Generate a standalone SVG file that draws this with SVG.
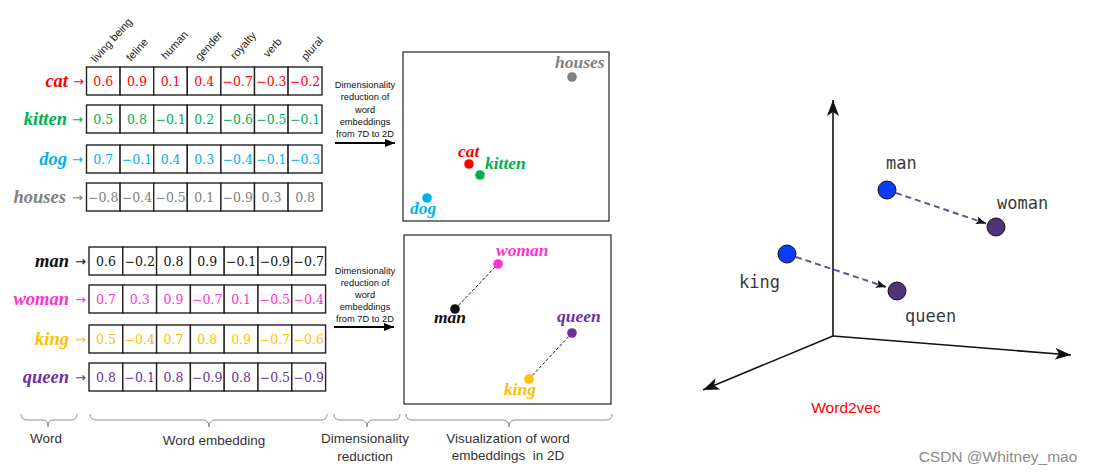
<svg xmlns="http://www.w3.org/2000/svg" width="1094" height="474" viewBox="0 0 1094 474">
<style>
.cell{fill:#fff;stroke:#222;stroke-width:1.4}
.num{font-family:"DejaVu Serif","Liberation Serif",serif;font-size:12.5px;text-anchor:middle}
.wl{font-family:"Liberation Serif",serif;font-weight:bold;font-style:italic;font-size:18.5px;text-anchor:end}
.ar{font-family:"DejaVu Sans",sans-serif;font-size:13px;text-anchor:end}
.hdr{font-family:"Liberation Sans",sans-serif;font-size:11px;fill:#222}
.dim{font-family:"Liberation Sans",sans-serif;font-size:9.3px;fill:#111;text-anchor:middle}
.pl{font-family:"Liberation Serif",serif;font-weight:bold;font-style:italic;font-size:17.5px}
.cap{font-family:"Liberation Sans",sans-serif;font-size:13.5px;fill:#333;text-anchor:middle}
.brace{fill:none;stroke:#8a8a8a;stroke-width:1}
.box{fill:#fff;stroke:#333;stroke-width:1.3}
.mono{font-family:"DejaVu Sans Mono",monospace;font-size:17px;fill:#3a3a3a}
.axis{stroke:#111;stroke-width:1.6;fill:none}
.dash{stroke:#6b4c9a;stroke-width:2;stroke-dasharray:6 4;fill:none}
.pd{stroke:#111;stroke-width:1;stroke-dasharray:3 2;fill:none}
.red{fill:#ff0000}.grn{fill:#00b050}.blu{fill:#00b0f0}.gry{fill:#808080}.blk{fill:#111}.mag{fill:#ff33cc}.gld{fill:#ffc000}.pur{fill:#7030a0}
</style>
<defs>
<marker id="bigArrow" viewBox="0 0 10 8" refX="10" refY="4" markerWidth="10" markerHeight="8" markerUnits="userSpaceOnUse" orient="auto"><path d="M0,0 L10,4 L0,8 Z" fill="#000"/></marker>
<marker id="axisArrow" viewBox="0 0 16 12" refX="16" refY="6" markerWidth="16" markerHeight="12" markerUnits="userSpaceOnUse" orient="auto"><path d="M0,0 L16,6 L0,12 L4,6 Z" fill="#111"/></marker>
<marker id="smallArrow" viewBox="0 0 10 8" refX="10" refY="4" markerWidth="10" markerHeight="8" markerUnits="userSpaceOnUse" orient="auto"><path d="M0,0 L10,4 L0,8 L2,4 Z" fill="#111"/></marker>
</defs>
<rect width="1094" height="474" fill="#fff"/>

<!-- column headers -->
<g id="headers">
<text class="hdr" transform="translate(96,63) rotate(-48)">living being</text>
<text class="hdr" transform="translate(131,62) rotate(-48)">feline</text>
<text class="hdr" transform="translate(166,60) rotate(-48)">human</text>
<text class="hdr" transform="translate(200,61) rotate(-48)">gender</text>
<text class="hdr" transform="translate(235,60) rotate(-48)">royalty</text>
<text class="hdr" transform="translate(268,58) rotate(-48)">verb</text>
<text class="hdr" transform="translate(306,61) rotate(-48)">plural</text>
</g>

<!-- top table rows -->
<g id="row-cat">
<rect class="cell" x="86.5" y="67" width="33.6" height="28"/><rect class="cell" x="120.1" y="67" width="33.6" height="28"/><rect class="cell" x="153.7" y="67" width="33.6" height="28"/><rect class="cell" x="187.3" y="67" width="33.6" height="28"/><rect class="cell" x="220.9" y="67" width="33.6" height="28"/><rect class="cell" x="254.5" y="67" width="33.6" height="28"/><rect class="cell" x="288.1" y="67" width="33.9" height="28"/>
<text class="wl red" x="68" y="87">cat</text><text class="ar red" x="84" y="86">→</text>
<g class="red"><text class="num" x="103.3" y="86">0.6</text><text class="num" x="137" y="86">0.9</text><text class="num" x="170.6" y="86">0.1</text><text class="num" x="204.2" y="86">0.4</text><text class="num" x="237.8" y="86">−0.7</text><text class="num" x="271.4" y="86">−0.3</text><text class="num" x="305.1" y="86">−0.2</text></g>
</g>
<g id="row-kitten">
<rect class="cell" x="86.5" y="105" width="33.6" height="28"/><rect class="cell" x="120.1" y="105" width="33.6" height="28"/><rect class="cell" x="153.7" y="105" width="33.6" height="28"/><rect class="cell" x="187.3" y="105" width="33.6" height="28"/><rect class="cell" x="220.9" y="105" width="33.6" height="28"/><rect class="cell" x="254.5" y="105" width="33.6" height="28"/><rect class="cell" x="288.1" y="105" width="33.9" height="28"/>
<text class="wl grn" x="67" y="125">kitten</text><text class="ar grn" x="83" y="124">→</text>
<g class="grn"><text class="num" x="103.3" y="124">0.5</text><text class="num" x="137" y="124">0.8</text><text class="num" x="170.6" y="124">−0.1</text><text class="num" x="204.2" y="124">0.2</text><text class="num" x="237.8" y="124">−0.6</text><text class="num" x="271.4" y="124">−0.5</text><text class="num" x="305.1" y="124">−0.1</text></g>
</g>
<g id="row-dog">
<rect class="cell" x="86.5" y="145" width="33.6" height="28"/><rect class="cell" x="120.1" y="145" width="33.6" height="28"/><rect class="cell" x="153.7" y="145" width="33.6" height="28"/><rect class="cell" x="187.3" y="145" width="33.6" height="28"/><rect class="cell" x="220.9" y="145" width="33.6" height="28"/><rect class="cell" x="254.5" y="145" width="33.6" height="28"/><rect class="cell" x="288.1" y="145" width="33.9" height="28"/>
<text class="wl blu" x="67" y="165">dog</text><text class="ar blu" x="83" y="164">→</text>
<g class="blu"><text class="num" x="103.3" y="164">0.7</text><text class="num" x="137" y="164">−0.1</text><text class="num" x="170.6" y="164">0.4</text><text class="num" x="204.2" y="164">0.3</text><text class="num" x="237.8" y="164">−0.4</text><text class="num" x="271.4" y="164">−0.1</text><text class="num" x="305.1" y="164">−0.3</text></g>
</g>
<g id="row-houses">
<rect class="cell" x="86.5" y="183" width="33.6" height="28"/><rect class="cell" x="120.1" y="183" width="33.6" height="28"/><rect class="cell" x="153.7" y="183" width="33.6" height="28"/><rect class="cell" x="187.3" y="183" width="33.6" height="28"/><rect class="cell" x="220.9" y="183" width="33.6" height="28"/><rect class="cell" x="254.5" y="183" width="33.6" height="28"/><rect class="cell" x="288.1" y="183" width="33.9" height="28"/>
<text class="wl gry" x="66" y="203">houses</text><text class="ar gry" x="83" y="202">→</text>
<g class="gry"><text class="num" x="103.3" y="202">−0.8</text><text class="num" x="137" y="202">−0.4</text><text class="num" x="170.6" y="202">−0.5</text><text class="num" x="204.2" y="202">0.1</text><text class="num" x="237.8" y="202">−0.9</text><text class="num" x="271.4" y="202">0.3</text><text class="num" x="305.1" y="202">0.8</text></g>
</g>

<!-- bottom table rows -->
<g id="row-man">
<rect class="cell" x="89" y="247" width="33.8" height="28"/><rect class="cell" x="122.8" y="247" width="33.8" height="28"/><rect class="cell" x="156.6" y="247" width="33.8" height="28"/><rect class="cell" x="190.4" y="247" width="33.8" height="28"/><rect class="cell" x="224.2" y="247" width="33.8" height="28"/><rect class="cell" x="258" y="247" width="33.8" height="28"/><rect class="cell" x="291.8" y="247" width="33.8" height="28"/>
<text class="wl blk" x="69" y="267">man</text><text class="ar blk" x="86" y="266">→</text>
<g class="blk"><text class="num" x="105.9" y="266">0.6</text><text class="num" x="139.7" y="266">−0.2</text><text class="num" x="173.5" y="266">0.8</text><text class="num" x="207.3" y="266">0.9</text><text class="num" x="241.1" y="266">−0.1</text><text class="num" x="274.9" y="266">−0.9</text><text class="num" x="308.7" y="266">−0.7</text></g>
</g>
<g id="row-woman">
<rect class="cell" x="89" y="285" width="33.8" height="28"/><rect class="cell" x="122.8" y="285" width="33.8" height="28"/><rect class="cell" x="156.6" y="285" width="33.8" height="28"/><rect class="cell" x="190.4" y="285" width="33.8" height="28"/><rect class="cell" x="224.2" y="285" width="33.8" height="28"/><rect class="cell" x="258" y="285" width="33.8" height="28"/><rect class="cell" x="291.8" y="285" width="33.8" height="28"/>
<text class="wl mag" x="69" y="305">woman</text><text class="ar mag" x="86" y="304">→</text>
<g class="mag"><text class="num" x="105.9" y="304">0.7</text><text class="num" x="139.7" y="304">0.3</text><text class="num" x="173.5" y="304">0.9</text><text class="num" x="207.3" y="304">−0.7</text><text class="num" x="241.1" y="304">0.1</text><text class="num" x="274.9" y="304">−0.5</text><text class="num" x="308.7" y="304">−0.4</text></g>
</g>
<g id="row-king">
<rect class="cell" x="89" y="325" width="33.8" height="28"/><rect class="cell" x="122.8" y="325" width="33.8" height="28"/><rect class="cell" x="156.6" y="325" width="33.8" height="28"/><rect class="cell" x="190.4" y="325" width="33.8" height="28"/><rect class="cell" x="224.2" y="325" width="33.8" height="28"/><rect class="cell" x="258" y="325" width="33.8" height="28"/><rect class="cell" x="291.8" y="325" width="33.8" height="28"/>
<text class="wl gld" x="69" y="345">king</text><text class="ar gld" x="86" y="344">→</text>
<g class="gld"><text class="num" x="105.9" y="344">0.5</text><text class="num" x="139.7" y="344">−0.4</text><text class="num" x="173.5" y="344">0.7</text><text class="num" x="207.3" y="344">0.8</text><text class="num" x="241.1" y="344">0.9</text><text class="num" x="274.9" y="344">−0.7</text><text class="num" x="308.7" y="344">−0.6</text></g>
</g>
<g id="row-queen">
<rect class="cell" x="89" y="363" width="33.8" height="28"/><rect class="cell" x="122.8" y="363" width="33.8" height="28"/><rect class="cell" x="156.6" y="363" width="33.8" height="28"/><rect class="cell" x="190.4" y="363" width="33.8" height="28"/><rect class="cell" x="224.2" y="363" width="33.8" height="28"/><rect class="cell" x="258" y="363" width="33.8" height="28"/><rect class="cell" x="291.8" y="363" width="33.8" height="28"/>
<text class="wl pur" x="69" y="383">queen</text><text class="ar pur" x="86" y="382">→</text>
<g class="pur"><text class="num" x="105.9" y="382">0.8</text><text class="num" x="139.7" y="382">−0.1</text><text class="num" x="173.5" y="382">0.8</text><text class="num" x="207.3" y="382">−0.9</text><text class="num" x="241.1" y="382">0.8</text><text class="num" x="274.9" y="382">−0.5</text><text class="num" x="308.7" y="382">−0.9</text></g>
</g>

<!-- dimensionality reduction notes -->
<g id="dimred-top">
<text class="dim" x="365" y="88">Dimensionality</text>
<text class="dim" x="365" y="100">reduction of</text>
<text class="dim" x="365" y="113">word</text>
<text class="dim" x="365" y="125">embeddings</text>
<text class="dim" x="365" y="137">from 7D to 2D</text>
</g>
<g id="dimred-bottom">
<text class="dim" x="365" y="274">Dimensionality</text>
<text class="dim" x="365" y="286">reduction of</text>
<text class="dim" x="365" y="298">word</text>
<text class="dim" x="365" y="310">embeddings</text>
<text class="dim" x="365" y="322">from 7D to 2D</text>
</g>

<!-- top plot -->
<g id="plot-top">
<rect class="box" x="403" y="52" width="206" height="169"/>
<circle cx="572" cy="77" r="4.8" class="gry"/>
<text class="pl gry" x="555" y="68">houses</text>
<circle cx="469" cy="164" r="4.8" class="red"/>
<text class="pl red" x="458" y="157">cat</text>
<circle cx="480" cy="175" r="4.8" class="grn"/>
<text class="pl grn" x="485" y="169">kitten</text>
<circle cx="427" cy="198" r="4.8" class="blu"/>
<text class="pl blu" x="410" y="214">dog</text>
</g>

<!-- bottom plot -->
<g id="plot-bottom">
<rect class="box" x="404" y="235" width="207" height="169"/>
<line class="pd" x1="455" y1="309" x2="498" y2="264"/>
<line class="pd" x1="529" y1="379" x2="572" y2="333"/>
<circle cx="498" cy="264" r="4.8" class="mag"/>
<text class="pl mag" x="496" y="256">woman</text>
<circle cx="455" cy="309" r="4.8" class="blk"/>
<text class="pl blk" x="434" y="323">man</text>
<circle cx="572" cy="333" r="4.8" class="pur"/>
<text class="pl pur" x="557" y="322">queen</text>
<circle cx="529" cy="379" r="4.8" class="gld"/>
<text class="pl gld" x="504" y="395">king</text>
</g>

<!-- bottom braces and captions -->
<g id="captions">
<path class="brace" d="M21,414 Q21,420 27,420 L43,420 Q48,420 48,427 Q48,420 53,420 L71,420 Q77,420 77,414"/>
<path class="brace" d="M90,414 Q90,420 96,420 L203,420 Q209,420 209,427 Q209,420 215,420 L321,420 Q327,420 327,414"/>
<path class="brace" d="M334,414 Q334,420 340,420 L361,420 Q367,420 367,427 Q367,420 373,420 L394,420 Q400,420 400,414"/>
<path class="brace" d="M406,414 Q406,420 412,420 L503,420 Q509,420 509,427 Q509,420 515,420 L606,420 Q612,420 612,414"/>
<text class="cap" x="46" y="443">Word</text>
<text class="cap" x="214" y="445">Word embedding</text>
<text class="cap" x="365" y="443">Dimensionality</text>
<text class="cap" x="365" y="461">reduction</text>
<text class="cap" x="508" y="443">Visualization of word</text>
<text class="cap" x="508" y="460" xml:space="preserve">embeddings  in 2D</text>
</g>

<!-- 3D word2vec plot nodes -->
<g id="node-man3d">
<circle cx="887" cy="190" r="9" fill="#0b3cf5" stroke="#111" stroke-width="1"/>
<text class="mono" x="886" y="169">man</text>
</g>
<g id="node-woman3d">
<circle cx="996" cy="227" r="9" fill="#4f3378" stroke="#111" stroke-width="1"/>
<text class="mono" x="997" y="209">woman</text>
</g>
<g id="node-king3d">
<circle cx="787" cy="254" r="9" fill="#0b3cf5" stroke="#111" stroke-width="1"/>
<text class="mono" x="739" y="288">king</text>
</g>
<g id="node-queen3d">
<circle cx="897" cy="291" r="9" fill="#4f3378" stroke="#111" stroke-width="1"/>
<text class="mono" x="905" y="322">queen</text>
</g>

<!-- connectors -->
<g id="connectors">
<line x1="335" y1="143" x2="395" y2="143" stroke="#000" stroke-width="2.2" marker-end="url(#bigArrow)"/>
<line x1="334" y1="327" x2="394" y2="327" stroke="#000" stroke-width="2.2" marker-end="url(#bigArrow)"/>
<line class="axis" x1="833" y1="336" x2="833" y2="100" marker-end="url(#axisArrow)"/>
<line class="axis" x1="833" y1="336" x2="1071" y2="355" marker-end="url(#axisArrow)"/>
<line class="axis" x1="833" y1="336" x2="703" y2="390" marker-end="url(#axisArrow)"/>
<line class="dash" x1="896" y1="193" x2="986" y2="223.5" marker-end="url(#smallArrow)"/>
<line class="dash" x1="796" y1="257" x2="886" y2="287" marker-end="url(#smallArrow)"/>
</g>

<text x="846" y="413" font-family="Liberation Sans, Arial, sans-serif" font-size="15.5" fill="#ff0000" text-anchor="middle">Word2vec</text>
<text x="998" y="462" font-family="Liberation Sans, Arial, sans-serif" font-size="15.5" fill="#8c8c8c" text-anchor="middle">CSDN @Whitney_mao</text>
</svg>
